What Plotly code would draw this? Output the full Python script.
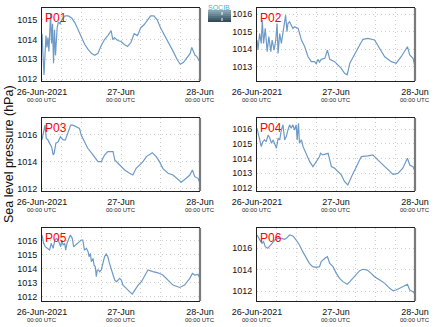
import plotly.graph_objects as go

# ---------------- data (hours after 26-Jun-2021 00:00 UTC, sea level pressure hPa) -------------
hours_p01 = [0, 0.3, 0.6, 0.9, 1.2, 1.5, 1.8, 2.1, 2.4, 2.6, 2.9, 3.2, 3.5, 3.8, 4.1, 4.6, 5.0, 5.5,
             6, 7, 8, 9, 10, 11, 12, 13, 14, 15, 16, 17, 18, 19, 20, 21, 21.5, 22, 23, 24, 25, 26,
             27, 28, 29, 30, 31, 32, 33, 34, 35, 36, 37, 38, 39, 40, 41, 42, 43, 44, 45, 45.5, 46,
             46.5, 47, 48]
p01 = [1014.3, 1013.0, 1012.2, 1013.2, 1014.2, 1013.6, 1014.1, 1013.4, 1014.6, 1015.3, 1013.8,
       1014.8, 1012.8, 1014.5, 1013.2, 1014.6, 1014.9, 1014.8, 1015.0, 1015.2, 1015.2, 1015.1,
       1014.85, 1014.5, 1014.1, 1013.75, 1013.5, 1013.3, 1013.2, 1013.3, 1013.7, 1014.0, 1014.2,
       1014.45, 1014.0, 1014.1, 1013.95, 1013.9, 1013.75, 1013.65, 1013.85, 1014.3, 1014.2,
       1014.6, 1014.75, 1015.0, 1015.2, 1015.2, 1015.0, 1014.6, 1014.3, 1014.0, 1013.7, 1013.35,
       1013.0, 1012.75, 1012.85, 1013.1, 1013.3, 1013.6, 1013.4, 1013.2, 1013.15, 1012.85]

hours_p02 = [0, 0.3, 0.8, 1.3, 1.6, 2.0, 2.5, 3.1, 3.6, 4.2, 4.6, 5.2, 5.7, 6.1, 6.4, 6.9, 7.4, 7.9,
             8.4, 8.7, 9.1, 9.4, 9.9, 10.4, 10.9, 11.4, 12.5, 13.5, 14.5, 15.5, 16.5, 17.5, 18.0,
             18.5, 19.0, 19.5, 20.6, 21.4, 22.1, 23.6, 24.6, 25.6, 26.6, 27.4, 28.2, 29.2, 30.2,
             31.2, 32.2, 33.7, 35.7, 37.3, 38.8, 40.8, 42.3, 43.8, 44.9, 45.7, 46.4, 47.4, 48]
p02 = [1014.53, 1013.96, 1014.9, 1014.34, 1015.66, 1014.34, 1015.19, 1013.87, 1014.72, 1013.87,
       1014.53, 1013.96, 1014.53, 1015.47, 1013.77, 1014.9, 1014.34, 1014.9, 1015.66, 1015.94,
       1015.0, 1015.47, 1015.57, 1015.38, 1015.19, 1015.28, 1015.19, 1014.53, 1014.15, 1013.58,
       1013.3, 1013.3, 1013.17, 1013.43, 1013.28, 1013.43, 1013.49, 1013.96, 1013.43, 1013.3,
       1013.11, 1012.92, 1012.64, 1012.55, 1013.21, 1013.58, 1013.96, 1014.25, 1014.57, 1014.62,
       1014.53, 1014.06, 1013.58, 1013.3, 1013.21, 1013.58, 1013.87, 1014.15, 1013.68, 1013.49,
       1013.02]

hours_p03 = [0, 0.6, 0.9, 1.3, 1.8, 2.3, 2.9, 3.4, 3.7, 4.2, 4.9, 5.6, 6.4, 7.1, 7.9, 8.7, 9.4,
             10.4, 11.4, 11.9, 12.9, 13.9, 15.5, 17.0, 18.0, 19.0, 20.0, 21.6, 22.1, 23.6, 25.1,
             26.6, 27.6, 28.6, 29.7, 30.7, 31.7, 33.5, 34.7, 35.7, 36.7, 38.3, 39.8, 41.3, 42.3,
             43.8, 44.9, 45.7, 46.4, 47.4, 48]
p03 = [1015.59, 1016.32, 1016.68, 1015.71, 1015.59, 1015.34, 1015.1, 1014.49, 1014.61, 1015.34,
       1015.46, 1015.83, 1015.59, 1015.59, 1016.2, 1016.68, 1016.68, 1016.56, 1016.44, 1015.95,
       1015.46, 1014.98, 1014.49, 1014.0, 1014.0, 1014.49, 1014.73, 1014.73, 1014.12, 1013.76,
       1013.39, 1013.15, 1013.02, 1013.51, 1013.76, 1014.0, 1014.37, 1014.66, 1014.37, 1014.0,
       1013.51, 1013.15, 1013.02, 1012.66, 1012.49, 1012.78, 1013.02, 1013.39, 1012.9, 1012.78,
       1012.41]

hours_p04 = [0, 0.5, 1.0, 1.3, 1.8, 2.3, 2.8, 3.4, 3.9, 4.4, 4.9, 5.4, 5.9, 6.4, 6.9, 7.4, 7.9,
             8.4, 8.9, 9.4, 9.9, 10.4, 10.9, 11.4, 11.9, 12.2, 12.6, 12.9, 13.5, 14.0, 15.0, 16.0,
             17.0, 18.0, 19.0, 19.3, 20.0, 21.6, 22.1, 22.6, 23.6, 24.6, 25.6, 26.6, 27.6, 28.7,
             29.7, 30.7, 31.7, 33.7, 35.2, 36.7, 38.3, 39.8, 41.3, 42.8, 44.3, 45.7, 46.4, 47.4, 48]
p04 = [1016.07, 1015.5, 1015.04, 1014.81, 1015.15, 1015.27, 1015.15, 1015.61, 1015.38, 1015.04,
       1015.27, 1015.04, 1014.7, 1015.38, 1015.27, 1015.95, 1016.3, 1015.27, 1015.5, 1015.95,
       1016.3, 1016.07, 1016.3, 1015.95, 1016.3, 1015.27, 1016.41, 1015.04, 1015.27, 1014.81,
       1014.35, 1013.78, 1013.44, 1013.78, 1014.13, 1014.35, 1014.24, 1014.35, 1013.78, 1013.44,
       1013.33, 1013.1, 1012.87, 1012.41, 1012.18, 1012.75, 1013.21, 1013.67, 1014.13, 1014.17,
       1014.24, 1013.9, 1013.55, 1013.21, 1012.91, 1012.98, 1013.33, 1014.01, 1013.55, 1013.44,
       1013.1]

hours_p05 = [0, 0.5, 1.0, 1.8, 2.3, 2.8, 3.4, 3.9, 4.4, 4.9, 5.4, 5.7, 6.0, 6.4, 6.9, 7.2, 7.6,
             8.1, 8.6, 9.2, 9.6, 10.2, 10.9, 11.4, 11.9, 12.4, 12.9, 13.5, 14.0, 14.3, 14.7, 15.0,
             15.5, 15.8, 16.2, 16.5, 16.8, 17.2, 17.5, 18.0, 18.5, 19.0, 19.5, 20.0, 20.5, 21.0,
             21.6, 22.1, 22.6, 23.1, 23.6, 24.1, 24.6, 25.6, 26.6, 27.4, 28.2, 29.2, 30.2, 31.2,
             32.2, 33.7, 35.2, 36.7, 38.3, 39.8, 41.8, 43.3, 44.9, 45.7, 46.4, 47.4, 48]
p05 = [1016.43, 1015.83, 1015.59, 1015.47, 1015.35, 1015.83, 1015.47, 1016.07, 1016.19, 1016.07,
       1015.83, 1015.59, 1016.07, 1015.71, 1015.83, 1015.35, 1015.83, 1016.07, 1016.43, 1016.19,
       1015.59, 1015.71, 1015.83, 1015.95, 1016.07, 1016.07, 1015.35, 1015.47, 1015.23, 1014.87,
       1015.11, 1014.51, 1014.75, 1014.28, 1014.16, 1013.44, 1013.92, 1013.92, 1013.8, 1013.92,
       1014.4, 1014.87, 1015.07, 1014.87, 1014.4, 1013.92, 1013.56, 1013.2, 1013.08, 1013.2,
       1013.32, 1013.2, 1012.84, 1012.6, 1012.36, 1012.19, 1012.48, 1012.84, 1013.08, 1013.56,
       1013.92, 1013.8, 1013.72, 1013.56, 1013.2, 1012.84, 1012.67, 1012.84, 1013.32, 1013.68,
       1013.56, 1013.6, 1013.32]

hours_p06 = [0, 0.5, 1.0, 1.5, 2.0, 2.5, 3.3, 4.4, 5.4, 6.4, 7.4, 8.4, 8.9, 9.9, 10.9, 11.9, 12.9,
             13.9, 14.9, 15.9, 16.9, 18.0, 19.0, 19.5, 20.6, 21.4, 22.1, 23.1, 24.1, 25.1, 26.1,
             27.4, 28.2, 29.2, 30.2, 31.2, 32.2, 33.5, 34.7, 35.7, 37.3, 38.8, 40.3, 41.3, 42.3,
             43.3, 44.7, 45.7, 46.4, 47.4, 48]
p06 = [1017.21, 1016.9, 1016.59, 1016.43, 1016.59, 1016.12, 1015.97, 1016.43, 1016.74, 1016.9,
       1016.9, 1016.81, 1016.9, 1017.21, 1017.12, 1016.74, 1016.28, 1015.66, 1015.04, 1014.57,
       1014.26, 1014.2, 1014.26, 1014.73, 1015.04, 1015.19, 1014.57, 1014.26, 1013.64, 1013.18,
       1012.87, 1012.62, 1012.87, 1013.18, 1013.49, 1013.89, 1014.02, 1013.95, 1013.64, 1013.33,
       1013.02, 1012.71, 1012.25, 1012.03, 1012.09, 1012.25, 1012.4, 1012.62, 1012.09, 1011.94,
       1011.72]

panel_names = ["P01", "P02", "P03", "P04", "P05", "P06"]
tick_hours = [0, 24, 48]
tick_line1 = ["26-Jun-2021", "27-Jun", "28-Jun"]
tick_line2 = ["00:00 UTC", "00:00 UTC", "00:00 UTC"]
y_title = "Sea level pressure (hPa)"

# ---------------- layout geometry -------------------
W, H = 435, 327
col_px = [(42, 200), (257, 415)]
row_px = [(8, 81), (118, 191), (228, 301)]
y_ranges = [[1011.9, 1015.6], [1012.2, 1016.35], [1011.85, 1017.2],
            [1011.77, 1016.77], [1011.7, 1016.93], [1011.07, 1017.86]]
y_dticks = [1, 1, 2, 1, 1, 2]

series = [(hours_p01, p01), (hours_p02, p02), (hours_p03, p03),
          (hours_p04, p04), (hours_p05, p05), (hours_p06, p06)]

FONT = "Liberation Sans, Arial, sans-serif"
LINE = "#6d9ac6"
GRID = "#cdcdcd"
GDASH = "1px,3px"

fig = go.Figure()
shapes = []
annotations = []
layout = {}
for i, (name, (hx, vy)) in enumerate(zip(panel_names, series)):
    r, c = divmod(i, 2)
    x0p, x1p = col_px[c]
    y0p, y1p = row_px[r]
    xd = [x0p / W, x1p / W]
    yd = [1 - y1p / H, 1 - y0p / H]
    n = "" if i == 0 else str(i + 1)
    fig.add_trace(go.Scatter(x=hx, y=vy, mode="lines", line=dict(color=LINE, width=1.2),
                             xaxis="x" + n, yaxis="y" + n, showlegend=False, hoverinfo="skip"))
    layout["xaxis" + n] = dict(
        domain=xd, anchor="y" + n, range=[0, 48], tickvals=tick_hours, ticktext=tick_line1,
        showgrid=True, gridcolor=GRID, griddash=GDASH, gridwidth=1,
        minor=dict(dtick=6, tick0=0, showgrid=True, gridcolor=GRID, griddash=GDASH, gridwidth=1),
        showline=True, linecolor="#202020", linewidth=1, mirror=True, ticks="",
        zeroline=False, tickfont=dict(size=9, color="#111", family=FONT), ticklabelstandoff=2,
        automargin=False, fixedrange=True)
    layout["yaxis" + n] = dict(
        domain=yd, anchor="x" + n, range=y_ranges[i], dtick=y_dticks[i], tick0=1012,
        showgrid=True, gridcolor=GRID, griddash=GDASH, gridwidth=1,
        showline=True, linecolor="#202020", linewidth=1, ticks="", zeroline=False,
        tickfont=dict(size=9, color="#111", family=FONT), ticklabelstandoff=2,
        automargin=False, fixedrange=True)
    # second line of the time tick labels
    for th, t2 in zip(tick_hours, tick_line2):
        annotations.append(dict(text=t2, xref="x" + n, yref="paper", x=th,
                                y=1 - (y1p + 18.5) / H, xanchor="center", yanchor="middle",
                                showarrow=False, font=dict(size=6, color="#222", family=FONT)))
    # thicker grey right border
    shapes.append(dict(type="line", xref="paper", yref="paper", x0=xd[1], x1=xd[1],
                       y0=yd[0], y1=yd[1], line=dict(color="#7a7a7a", width=2.2)))
    annotations.append(dict(text=name, xref="paper", yref="paper", x=xd[0] + 1 / W,
                            y=yd[1] - 1 / H, xanchor="left", yanchor="top", showarrow=False,
                            font=dict(size=12, color="#ff0000", family=FONT)))

# y-axis title
annotations.append(dict(text=y_title, xref="paper", yref="paper", x=9 / W, y=1 - 154 / H,
                        textangle=-90, showarrow=False, xanchor="center", yanchor="middle",
                        font=dict(size=12.5, color="#111", family=FONT)))

# small logo at top centre
annotations.append(dict(text="SOCIB", xref="paper", yref="paper", x=219 / W, y=1 - 2 / H,
                        xanchor="center", yanchor="top", showarrow=False,
                        font=dict(size=7, color="#36b6d0", family=FONT)))
logo_cols = ["#8aa6b2", "#7896a3", "#678493", "#557282", "#445f6d", "#364d59"]
ly0, ly1 = 10, 22
step = (ly1 - ly0) / len(logo_cols)
for k, col in enumerate(logo_cols):
    shapes.append(dict(type="rect", xref="paper", yref="paper", x0=208 / W, x1=231 / W,
                       y0=1 - (ly0 + (k + 1) * step) / H, y1=1 - (ly0 + k * step) / H,
                       fillcolor=col, line=dict(width=0), layer="above"))
shapes.append(dict(type="line", xref="paper", yref="paper", x0=222 / W, x1=222 / W,
                   y0=1 - 21 / H, y1=1 - 12 / H,
                   line=dict(color="white", width=1, dash="dot"), layer="above"))

fig.update_layout(**layout)
fig.update_layout(width=W, height=H, margin=dict(l=0, r=0, t=0, b=0),
                  paper_bgcolor="white", plot_bgcolor="white",
                  font=dict(family=FONT, color="#111"),
                  shapes=shapes, annotations=annotations, showlegend=False)

fig.write_html("out.html", config={"displayModeBar": False})
